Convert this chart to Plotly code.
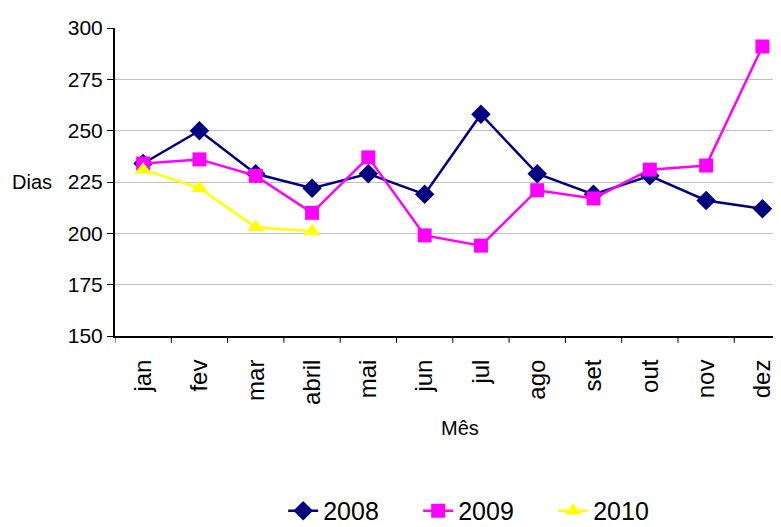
import plotly.graph_objects as go

months = ["jan", "fev", "mar", "abril", "mai", "jun", "jul", "ago", "set", "out", "nov", "dez"]
s2008 = [234, 250, 229, 222, 229, 219, 258, 229, 219, 228, 216, 212]
s2009 = [234, 236, 228, 210, 237, 199, 194, 221, 217, 231, 233, 291]
s2010 = [231, 222, 203, 201]
y_ticks = [150, 175, 200, 225, 250, 275, 300]

FONT = "Liberation Sans, Arial, sans-serif"
x_idx = list(range(len(months)))

fig = go.Figure()
fig.add_trace(go.Scatter(x=x_idx, y=s2008, name="2008", mode="lines+markers",
                         line=dict(color="#000080", width=2.5),
                         marker=dict(symbol="diamond", size=15, color="#000080")))
fig.add_trace(go.Scatter(x=x_idx, y=s2009, name="2009", mode="lines+markers",
                         line=dict(color="#ff00ff", width=2.5),
                         marker=dict(symbol="square", size=14, color="#ff00ff")))
fig.add_trace(go.Scatter(x=x_idx[:len(s2010)], y=s2010, name="2010", mode="lines+markers",
                         line=dict(color="#ffff00", width=2.5),
                         marker=dict(symbol="triangle-up", size=15, color="#ffff00")))

fig.update_layout(
    width=773, height=519,
    margin=dict(l=107, r=0, t=20, b=191, autoexpand=False),
    paper_bgcolor="white", plot_bgcolor="white",
    font=dict(family=FONT, color="black", size=20),
    showlegend=True,
    legend=dict(orientation="h", x=0.2525, xanchor="left", y=-0.568, yanchor="middle",
                font=dict(size=25, family=FONT), entrywidth=90, entrywidthmode="pixels"),
    xaxis=dict(
        tickmode="array", tickvals=x_idx, ticktext=months, tickangle=-90,
        range=[-0.5, 11.33], showgrid=False, zeroline=False, automargin=False,
        showline=True, linecolor="black", linewidth=2,
        ticks="", tickfont=dict(size=24), ticklabelstandoff=12,
    ),
    yaxis=dict(
        range=[150, 300], tickvals=y_ticks, showgrid=True, gridcolor="#c0c0c0", gridwidth=1,
        zeroline=False, showline=True, linecolor="black", linewidth=2, automargin=False,
        ticks="outside", ticklen=6, tickcolor="black", tickfont=dict(size=21),
    ),
)

# category separator ticks on the x axis
for i in range(len(months)):
    fig.add_shape(type="line", xref="x", yref="paper", x0=i - 0.5, x1=i - 0.5,
                  y0=0, y1=-0.022, line=dict(color="black", width=1))

fig.add_annotation(text="Dias", xref="paper", yref="y", x=-0.125, y=225,
                   showarrow=False, font=dict(size=20, family=FONT),
                   xanchor="center", yanchor="middle")
fig.add_annotation(text="Mês", xref="paper", yref="paper", x=0.518, y=-0.298,
                   showarrow=False, font=dict(size=20, family=FONT),
                   xanchor="center", yanchor="middle")

fig.write_html("out.html")
